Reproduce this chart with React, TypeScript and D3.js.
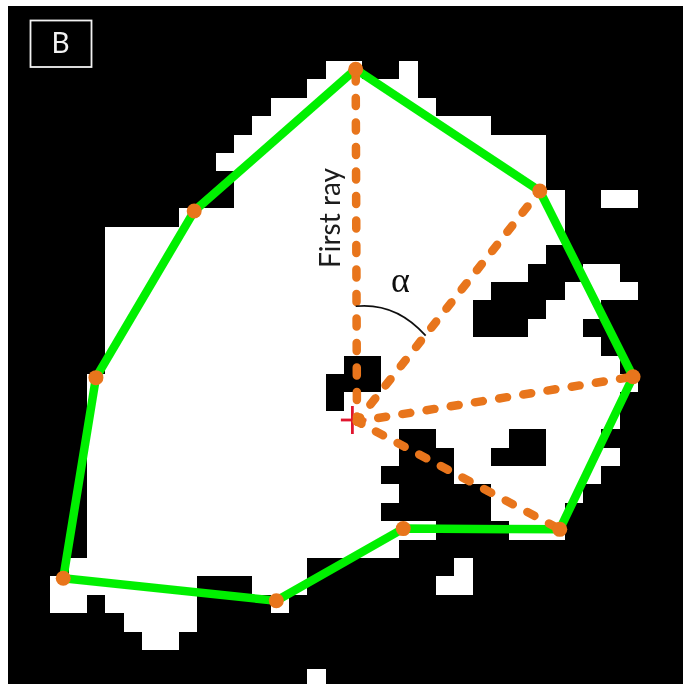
import React from 'react';
import * as d3 from 'd3';

const WIDTH = 683;
const HEIGHT = 684;

// white runs of the binary mask, one line per row: [colStart, colEnd, colStart, colEnd, ...]
const maskRuns: number[][] = [
  [17, 19, 21, 22],
  [16, 22],
  [14, 23],
  [13, 26],
  [12, 29],
  [11, 29],
  [12, 29],
  [12, 30, 32, 34],
  [9, 30],
  [5, 30],
  [5, 29],
  [5, 28, 31, 33],
  [5, 26, 30, 34],
  [5, 25, 29, 32],
  [5, 25, 28, 31],
  [5, 32],
  [5, 18, 20, 33],
  [4, 17, 20, 34],
  [4, 17, 18, 33],
  [4, 33],
  [4, 21, 23, 27, 29, 32],
  [4, 21, 24, 26, 29, 33],
  [4, 20, 24, 32],
  [4, 21, 26, 31],
  [4, 20, 26, 30],
  [4, 23, 27, 30],
  [4, 21],
  [3, 16, 24, 25],
  [2, 10, 13, 16, 23, 25],
  [2, 4, 5, 10, 14, 15],
  [6, 10],
  [7, 9],
  [],
  [16, 17],
];

// hull vertices in mask units [col, row], clockwise from the top
const hullPoints: [number, number][] = [
  [18.63, 0.45],
  [28.65, 7.06],
  [33.73, 17.15],
  [29.74, 25.44],
  [21.22, 25.4],
  [14.31, 29.32],
  [2.71, 28.1],
  [4.49, 17.2],
  [9.84, 8.15],
];

const rayCenter: [number, number] = [18.7, 19.58];
const rayTargets = [0, 1, 2, 3];
const crossCenter: [number, number] = [18.45, 19.5];
const alphaCurve: [number, number][] = [
  [18.63, 13.32],
  [20.82, 13.1],
  [22.44, 14.92],
];

const x = d3.scaleLinear().domain([0, 34]).range([13.45, 638.03]);
const y = d3.scaleLinear().domain([0, 33]).range([61, 668.53]);

const ORANGE = '#e8751a';
const GREEN = '#05f005';

export default function App() {
  const hullPath = d3
    .line<[number, number]>()
    .x((d) => x(d[0]))
    .y((d) => y(d[1]))
    .curve(d3.curveLinearClosed)(hullPoints) as string;

  const alphaPath = d3.path();
  alphaPath.moveTo(x(alphaCurve[0][0]), y(alphaCurve[0][1]));
  alphaPath.quadraticCurveTo(
    x(alphaCurve[1][0]),
    y(alphaCurve[1][1]),
    x(alphaCurve[2][0]),
    y(alphaCurve[2][1])
  );

  const cx = x(crossCenter[0]);
  const cy = y(crossCenter[1]);

  return (
    <svg
      width={WIDTH}
      height={HEIGHT}
      style={{ position: 'fixed', left: 0, top: 0, background: '#fff' }}
    >
      <defs>
        {/* the source is a soft jpeg, edges are not fully sharp */}
        <filter id="soft" filterUnits="userSpaceOnUse" x={8} y={6} width={WIDTH} height={HEIGHT}>
          <feGaussianBlur stdDeviation={0.45} />
        </filter>
      </defs>

      <rect x={8} y={6} width={WIDTH - 8} height={HEIGHT - 6} fill="#000" />

      <g filter="url(#soft)">
        <g fill="#fff" shapeRendering="crispEdges">
          {maskRuns.map((runs, row) =>
            d3.range(0, runs.length, 2).map((i) => (
              <rect
                key={`${row}-${i}`}
                x={x(runs[i])}
                y={y(row)}
                width={x(runs[i + 1]) - x(runs[i])}
                height={y(row + 1) - y(row)}
              />
            ))
          )}
        </g>

        <path d={hullPath} fill="none" stroke={GREEN} strokeWidth={8.5} strokeLinejoin="round" />

        <g stroke="#e0122e" strokeWidth={2.8}>
          <line x1={cx - 11.5} x2={cx + 14} y1={cy} y2={cy} />
          <line x1={cx} x2={cx} y1={cy - 14} y2={cy + 14} />
        </g>

        <g stroke={ORANGE} strokeWidth={8.5} strokeLinecap="round" strokeDasharray="8 16.5" strokeDashoffset={3}>
          {rayTargets.map((t) => (
            <line
              key={t}
              x1={x(rayCenter[0])}
              y1={y(rayCenter[1])}
              x2={x(hullPoints[t][0])}
              y2={y(hullPoints[t][1])}
            />
          ))}
        </g>

        {hullPoints.map((d, i) => (
          <circle key={i} cx={x(d[0])} cy={y(d[1])} r={7.5} fill={ORANGE} />
        ))}

        <path d={alphaPath.toString()} fill="none" stroke="#111" strokeWidth={1.7} />

        <text
          transform="translate(339.5,268) rotate(-90)"
          fontFamily="Lato, 'Open Sans', sans-serif"
          fontSize={28}
          fill="#1a1a1a"
        >
          First ray
        </text>
        <text
          x={400.5}
          y={292}
          textAnchor="middle"
          fontFamily="'Liberation Serif', serif"
          fontSize={36}
          fill="#111"
        >
          α
        </text>

        <rect x={30.5} y={20.5} width={61} height={46.5} fill="none" stroke="#f2f2f2" strokeWidth={1.8} />
        <text
          x={60.5}
          y={53}
          textAnchor="middle"
          fontFamily="Lato, 'Open Sans', sans-serif"
          fontSize={28}
          fill="#f2f2f2"
        >
          B
        </text>
      </g>
    </svg>
  );
}
